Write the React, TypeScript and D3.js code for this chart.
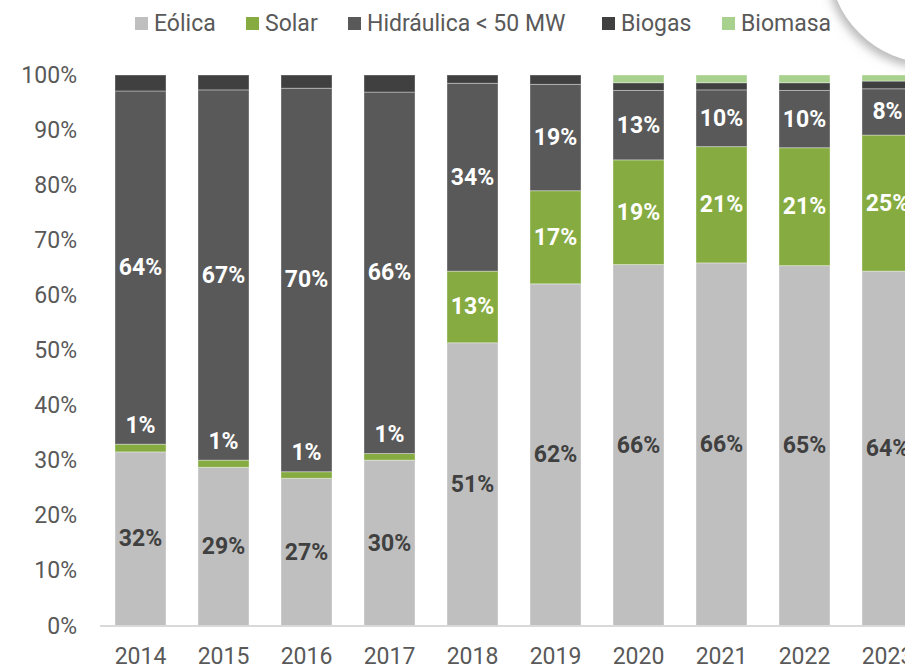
import React from "react";
import { scaleBand, scaleLinear, stack } from "d3";

const years = ["2014", "2015", "2016", "2017", "2018", "2019", "2020", "2021", "2022", "2023"];
const eolica = [31.6, 28.8, 26.8, 30.1, 51.4, 62.1, 65.6, 65.9, 65.4, 64.4];
const solar = [1.4, 1.3, 1.2, 1.2, 13.0, 16.9, 19.0, 21.1, 21.4, 24.7];
const hidraulica = [64.1, 67.2, 69.6, 65.6, 34.1, 19.3, 12.6, 10.3, 10.4, 8.4];
const biogas = [2.9, 2.7, 2.4, 3.1, 1.5, 1.7, 1.4, 1.3, 1.4, 1.4];
const biomasa = [0, 0, 0, 0, 0, 0, 1.4, 1.4, 1.4, 1.1];
const yTicks = [0, 10, 20, 30, 40, 50, 60, 70, 80, 90, 100];

const keys = ["Eólica", "Solar", "Hidráulica < 50 MW", "Biogas", "Biomasa"];
const colors = ["#bfbfbf", "#86ac41", "#595959", "#404040", "#a9d18e"];
const labelled = [true, true, true, false, false];
const legendX = [135, 246, 348, 602, 722];

const W = 905;
const H = 667;
const font = "Roboto, 'Noto Sans', sans-serif";

const App = () => {
  const rows = years.map((y, i) => ({
    year: y,
    "Eólica": eolica[i],
    Solar: solar[i],
    "Hidráulica < 50 MW": hidraulica[i],
    Biogas: biogas[i],
    Biomasa: biomasa[i],
  }));
  const series = stack<any>().keys(keys)(rows);

  const x = scaleBand()
    .domain(years)
    .range([99, 929])
    .paddingInner(0.3855)
    .paddingOuter(0.19277);
  const y = scaleLinear().domain([0, 100]).range([626, 75]);

  return (
    <svg
      width={W}
      height={H}
      style={{ position: "absolute", left: 0, top: 0, background: "#fff" }}
      fontFamily={font}
    >
      <defs>
        <filter id="shadow" x="-50%" y="-50%" width="200%" height="200%">
          <feDropShadow dx={-3} dy={5} stdDeviation={5} floodColor="#808080" floodOpacity={0.55} />
        </filter>
      </defs>

      {/* legend */}
      {keys.map((k, i) => (
        <g key={k} transform={`translate(${legendX[i]},0)`}>
          <rect x={0} y={17} width={13} height={13} fill={colors[i]} />
          <text x={19} y={23} dominantBaseline="central" fontSize={23} fill="#595959">
            {k}
          </text>
        </g>
      ))}

      {/* y axis labels */}
      {yTicks.map((t) => (
        <text
          key={t}
          x={77}
          y={y(t)}
          textAnchor="end"
          dominantBaseline="central"
          fontSize={23}
          fill="#595959"
        >
          {t}%
        </text>
      ))}

      {/* bars */}
      {series.map((s, si) =>
        s.map((d, i) =>
          d[1] - d[0] > 0 ? (
            <rect
              key={`${si}-${i}`}
              x={x(years[i])}
              y={y(d[1])}
              width={x.bandwidth()}
              height={y(d[0]) - y(d[1])}
              fill={colors[si]}
              stroke="#ffffff"
              strokeOpacity={0.35}
              strokeWidth={1}
            />
          ) : null
        )
      )}

      {/* axis line */}
      <line x1={100} x2={W} y1={626} y2={626} stroke="#d9d9d9" strokeWidth={2} />

      {/* year labels */}
      {years.map((yr) => (
        <text
          key={yr}
          x={(x(yr) as number) + x.bandwidth() / 2}
          y={656}
          textAnchor="middle"
          dominantBaseline="central"
          fontSize={23}
          fill="#595959"
        >
          {yr}
        </text>
      ))}

      {/* data labels */}
      {series.map((s, si) =>
        labelled[si]
          ? s.map((d, i) => {
              const v = d[1] - d[0];
              const small = v < 5;
              const cy = small ? y(d[1]) - 19 : (y(d[0]) + y(d[1])) / 2;
              const fill = si === 0 ? "#404040" : "#ffffff";
              return (
                <text
                  key={`l-${si}-${i}`}
                  x={(x(years[i]) as number) + x.bandwidth() / 2}
                  y={cy}
                  textAnchor="middle"
                  dominantBaseline="central"
                  fontSize={23}
                  fontWeight="bold"
                  fill={small ? "#ffffff" : fill}
                >
                  {Math.round(v)}%
                </text>
              );
            })
          : null
      )}

      {/* decorative corner disc */}
      <circle cx={932} cy={-40} r={103} fill="#ffffff" filter="url(#shadow)" />
    </svg>
  );
};

export default App;
